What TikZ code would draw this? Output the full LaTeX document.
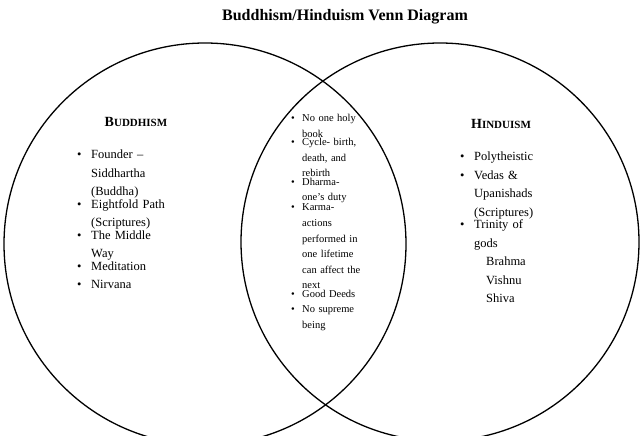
\documentclass[tikz,border=0pt]{standalone}
\usepackage{fontspec}
\setmainfont{Liberation Serif}
\newcommand{\bitem}[2]{\noindent\makebox[#1][l]{\textbullet}\parbox[t]{110pt}{\raggedright #2}\par}
\begin{document}
\begin{tikzpicture}[x=1pt,y=-1pt,
  circ/.style={draw,line width=1.3pt},
  big/.style={font=\fontsize{12.5}{18.5}\selectfont,anchor=north west,text width=130pt,inner sep=0pt},
  small/.style={font=\fontsize{10.5}{15.6}\selectfont,anchor=north west,text width=120pt,inner sep=0pt}]
\useasboundingbox (0,0) rectangle (640,436);
\node[font=\bfseries\fontsize{16}{18}\selectfont] (t) at (345,17) {Buddhism/Hinduism Venn Diagram};
\draw[circ] (205,244) circle (201);
\draw[circ] (440,242) circle (199);
\node[font=\bfseries\fontsize{14}{16}\selectfont] (b) at (136,122) {B\fontsize{11}{16}\selectfont UDDHISM};
\node[font=\bfseries\fontsize{14}{16}\selectfont] (h) at (501,124) {H\fontsize{11}{16}\selectfont INDUISM};
\node[big] (l) at (77,150) {%
\bitem{14pt}{Founder --\\Siddhartha\\(Buddha)}
\bitem{14pt}{Eightfold Path\\(Scriptures)}
\bitem{14pt}{The Middle\\Way}
\bitem{14pt}{Meditation}
\bitem{14pt}{Nirvana}};
\node[small] (c) at (291,114) {%
\bitem{11pt}{No one holy\\book}
\bitem{11pt}{Cycle- birth,\\death, and\\rebirth}
\bitem{11pt}{Dharma-\\one's duty}
\bitem{11pt}{Karma-\\actions\\performed in\\one lifetime\\can affect the\\next}
\bitem{11pt}{Good Deeds}
\bitem{11pt}{No supreme\\being}};
\node[big] (r) at (460,152) {%
\bitem{14pt}{Polytheistic}
\bitem{14pt}{Vedas \&\\Upanishads\\(Scriptures)}
\bitem{14pt}{Trinity of\\gods\\\hspace*{12pt}Brahma\\\hspace*{12pt}Vishnu\\\hspace*{12pt}Shiva}};
\end{tikzpicture}
\end{document}
